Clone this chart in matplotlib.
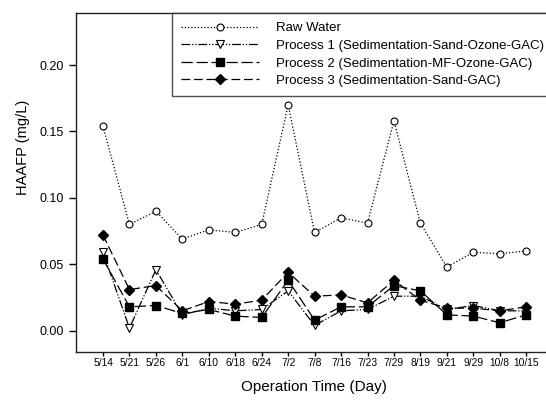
import matplotlib
matplotlib.use("Agg")
import matplotlib.pyplot as plt
import numpy as np

plt.rcParams['font.family'] = ['Liberation Sans', 'DejaVu Sans']

dates = ['5/14', '5/21', '5/26', '6/1', '6/10', '6/18', '6/24', '7/2', '7/8',
         '7/16', '7/23', '7/29', '8/19', '9/21', '9/29', '10/8', '10/15']
raw = [0.154, 0.080, 0.090, 0.069, 0.076, 0.074, 0.080, 0.170, 0.074,
       0.085, 0.081, 0.158, 0.081, 0.048, 0.059, 0.058, 0.060]
p1 = [0.059, 0.002, 0.046, 0.012, 0.017, 0.015, 0.016, 0.030, 0.004,
      0.015, 0.016, 0.026, 0.026, 0.016, 0.019, 0.015, 0.015]
p2 = [0.054, 0.018, 0.019, 0.013, 0.016, 0.011, 0.010, 0.038, 0.008,
      0.018, 0.018, 0.034, 0.030, 0.012, 0.011, 0.006, 0.012]
p3 = [0.072, 0.031, 0.034, 0.015, 0.022, 0.020, 0.023, 0.044, 0.026,
      0.027, 0.021, 0.038, 0.023, 0.017, 0.017, 0.015, 0.018]
labels = ['Raw Water',
          'Process 1 (Sedimentation-Sand-Ozone-GAC)',
          'Process 2 (Sedimentation-MF-Ozone-GAC)',
          'Process 3 (Sedimentation-Sand-GAC)']
yticks = [0.00, 0.05, 0.10, 0.15, 0.20]

W, H = 546, 401
fig = plt.figure(figsize=(W / 100, H / 100), dpi=100)
left, right, top, bottom = 76, 560, 13, 352
ax = fig.add_axes([left / W, 1 - bottom / H, (right - left) / W, (bottom - top) / H])

x = np.arange(len(dates))
ax.plot(x, raw, color='black', lw=0.9, dashes=(1, 1.6), marker='o', ms=5,
        mfc='white', mec='black', mew=0.8, label=labels[0])
ax.plot(x, p1, color='black', lw=0.9, dashes=(7, 1.5, 1, 1.5, 1, 1.5), marker='v', ms=6,
        mfc='white', mec='black', mew=0.8, label=labels[1])
ax.plot(x, p2, color='black', lw=0.9, dashes=(9, 3), marker='s', ms=6,
        mfc='black', mec='black', label=labels[2])
ax.plot(x, p3, color='black', lw=0.9, dashes=(7, 3), marker='D', ms=5.5,
        mfc='black', mec='black', label=labels[3])

x0 = 103
step = 26.45
ax.set_xlim((left - x0) / step, (right - x0) / step)
ax.set_ylim(-0.016, 0.2392)
ax.set_xticks(x)
ax.set_xticklabels(dates, fontsize=7.4)
ax.set_yticks(yticks)
ax.set_yticklabels([f'{v:.2f}' for v in yticks], fontsize=9)
ax.tick_params(axis='x', direction='out', length=3, width=1, pad=1.5)
ax.tick_params(axis='y', direction='out', length=5, width=1, pad=4)
for s in ax.spines.values():
    s.set_linewidth(1)
    s.set_color('#222222')

fig.text(314 / W, 1 - 387 / H, 'Operation Time (Day)', ha='center', va='center', fontsize=11)
fig.text(23 / W, 1 - 147 / H, 'HAAFP (mg/L)', ha='center', va='center', rotation=90, fontsize=10.5)

leg = ax.legend(loc='upper left', bbox_to_anchor=(172 / W, 1 - 13 / H),
                bbox_transform=fig.transFigure, fontsize=9.5, frameon=True,
                fancybox=False, edgecolor='#222222', handlelength=5.9,
                handletextpad=1.3, labelspacing=0.4, borderaxespad=0,
                borderpad=0.7)
leg.get_frame().set_linewidth(1)

fig.savefig('out.png', dpi=100)
